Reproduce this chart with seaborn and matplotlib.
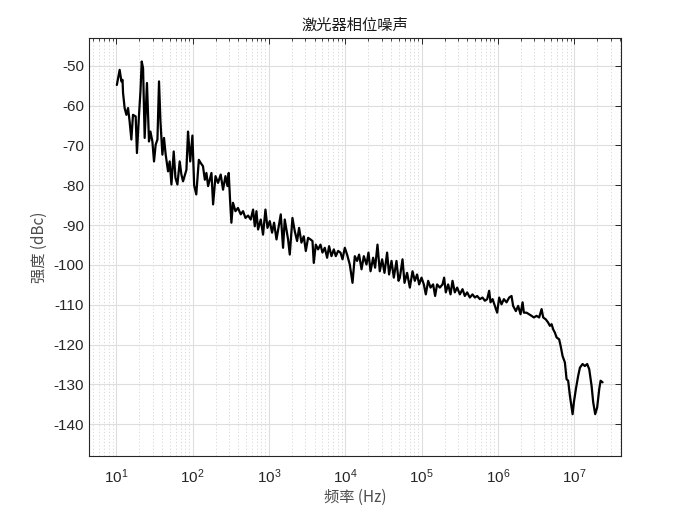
import matplotlib

matplotlib.use("Agg")
import matplotlib.pyplot as plt
import matplotlib.ticker as mticker
import numpy as np
import pandas as pd
import seaborn as sns

# frequency (Hz) and phase noise (dBc)
freq_hz = [
    10.2, 11.1, 11.7, 12.1, 12.3, 12.9, 13.6, 14.3, 15.0, 15.8,
    16.6, 18.0, 18.7, 19.9, 20.8, 21.6, 22.5, 23.6, 25.3, 26.9,
    28.1, 29.8, 31.3, 32.9, 34.7, 36.4, 38.0, 40.3, 42.3, 44.5,
    47.8, 50.2, 52.9, 56.7, 59.7, 63.4, 67.9, 71.5, 75.1, 83.2,
    87.3, 93.3, 99.7, 105, 112, 121, 128, 137, 145, 152,
    160, 177, 186, 200, 216, 234, 251, 270, 287, 298,
    310, 323, 339, 365, 394, 428, 459, 494, 534, 579,
    621, 654, 688, 722, 783, 839, 902, 959, 1028, 1102,
    1170, 1259, 1349, 1432, 1535, 1615, 1786, 1879, 2037, 2183,
    2344, 2489, 2674, 2866, 3048, 3266, 3509, 3727, 3876, 4118,
    4413, 4746, 5038, 5405, 5794, 6152, 6607, 7096, 7534, 8072,
    8670, 9225, 9886, 10590, 11480, 12470, 13370, 14320, 15210, 16370,
    17540, 19010, 20180, 21480, 23230, 24660, 26490, 28380, 30480, 32730,
    35400, 37580, 40460, 43350, 46990, 50000, 52000, 56360, 59840, 64710,
    70310, 76210, 81660, 87500, 93110, 1.00e5, 1.072e5, 1.138e5, 1.222e5, 1.313e5,
    1.419e5, 1.507e5, 1.600e5, 1.738e5, 1.884e5, 1.977e5, 2.080e5, 2.233e5, 2.399e5, 2.547e5,
    2.729e5, 2.931e5, 3.177e5, 3.444e5, 3.690e5, 3.963e5, 4.295e5, 4.656e5, 5.000e5, 5.358e5,
    5.808e5, 6.295e5, 6.761e5, 7.244e5, 7.691e5, 8.017e5, 8.531e5, 9.141e5, 9.795e5, 1.040e6,
    1.117e6, 1.199e6, 1.300e6, 1.406e6, 1.510e6, 1.585e6, 1.722e6, 1.845e6, 1.982e6, 2.108e6,
    2.193e6, 2.377e6, 2.570e6, 2.767e6, 2.965e6, 3.214e6, 3.475e6, 3.741e6, 3.926e6, 4.256e6,
    4.560e6, 4.808e6, 5.058e6, 5.309e6, 5.585e6, 5.875e6, 6.353e6, 6.637e6, 7.047e6, 7.551e6,
    7.943e6, 8.337e6, 8.790e6, 9.247e6, 9.528e6, 9.908e6, 1.052e7, 1.127e7, 1.189e7, 1.288e7,
    1.380e7, 1.479e7, 1.574e7, 1.690e7, 1.774e7, 1.884e7, 2.000e7, 2.128e7, 2.218e7, 2.355e7,
]
noise_dbc = [
    -54.8, -51.0, -53.9, -53.5, -56.8, -60.6, -62.3, -60.6, -64.0, -68.5,
    -62.3, -62.7, -71.9, -62.3, -56.4, -48.9, -50.6, -68.1, -54.3, -69.0,
    -66.5, -69.0, -74.0, -69.8, -68.5, -53.9, -64.0, -72.3, -68.1, -72.3,
    -76.5, -74.0, -79.8, -71.5, -78.1, -79.8, -74.0, -77.3, -79.0, -76.1,
    -66.5, -74.0, -67.5, -80.0, -82.3, -73.6, -74.4, -75.2, -78.6, -76.9,
    -80.2, -76.9, -84.8, -77.7, -79.4, -77.3, -81.1, -77.7, -80.2, -76.9,
    -83.6, -89.4, -84.4, -86.5, -85.7, -87.3, -86.5, -88.2, -87.6, -88.6,
    -86.1, -90.3, -86.5, -91.1, -88.6, -92.4, -86.1, -90.7, -89.0, -91.9,
    -89.4, -93.6, -90.3, -87.3, -95.7, -88.6, -93.6, -97.4, -88.2, -91.5,
    -94.0, -90.7, -94.4, -92.8, -96.5, -93.2, -93.6, -94.0, -99.5, -94.9,
    -96.1, -94.9, -96.9, -95.7, -98.2, -95.3, -97.8, -96.1, -97.8, -96.5,
    -96.9, -98.6, -95.7, -97.4, -99.9, -104.5, -97.8, -99.0, -97.4, -101.1,
    -97.8, -99.9, -96.9, -101.6, -98.2, -100.7, -94.9, -101.6, -98.6, -102.0,
    -96.9, -102.4, -99.0, -103.2, -99.0, -104.0, -103.2, -98.6, -104.5, -102.0,
    -105.7, -101.6, -104.0, -102.4, -104.9, -103.2, -104.9, -107.4, -104.0, -105.7,
    -104.9, -107.8, -104.9, -105.7, -104.9, -103.2, -106.9, -104.9, -107.4, -104.0,
    -106.9, -105.7, -107.4, -106.1, -107.8, -106.9, -108.2, -107.4, -108.2, -107.8,
    -108.6, -108.2, -109.0, -108.6, -106.5, -109.4, -108.6, -110.3, -112.0, -108.2,
    -109.9, -108.6, -109.4, -108.2, -107.8, -110.3, -111.6, -110.3, -112.4, -109.4,
    -112.0, -112.0, -112.4, -112.8, -113.2, -112.8, -113.2, -111.1, -113.2, -113.7,
    -114.5, -115.3, -114.9, -116.2, -117.0, -118.2, -118.7, -120.3, -122.9, -124.5,
    -128.7, -129.1, -132.9, -135.8, -137.5, -134.5, -131.2, -127.9, -125.8, -124.9,
    -125.4, -124.9, -126.2, -130.4, -134.5, -137.5, -135.8, -131.2, -129.1, -129.5,
]

x_ticks = [1e1, 1e2, 1e3, 1e4, 1e5, 1e6, 1e7]
y_ticks = list(range(-140, -40, 10))

df = pd.DataFrame({"freq": freq_hz, "noise": noise_dbc})

sns.set_style("white")
plt.rcParams["font.family"] = ["Liberation Sans", "Noto Sans CJK SC", "DejaVu Sans"]
plt.rcParams["mathtext.default"] = "regular"
plt.rcParams["axes.unicode_minus"] = False

fig = plt.figure(figsize=(6.86, 5.15), dpi=100)
ax = fig.add_axes([0.1297, 0.1146, 0.7755, 0.8116])

sns.lineplot(data=df, x="freq", y="noise", estimator=None, sort=False,
             color="black", lw=1.6, ax=ax)

ax.set_xscale("log")
ax.set_xlim(4.4, 4.1e7)
ax.set_ylim(-148, -43)
ax.set_xticks(x_ticks)
ax.xaxis.set_major_formatter(
    mticker.FuncFormatter(lambda v, _: r"$10^{%d}$" % round(np.log10(v))))
ax.xaxis.set_minor_locator(mticker.LogLocator(base=10, subs=np.arange(2, 10)))
ax.xaxis.set_minor_formatter(mticker.NullFormatter())
ax.set_yticks(y_ticks)

ax.grid(which="major", color="#dedede", lw=0.8, ls="-")
ax.grid(which="minor", axis="x", color="#d4d4d4", lw=0.6, ls=(0, (1.5, 2.5)))
ax.set_axisbelow(True)

for s in ax.spines.values():
    s.set_color("#262626")
    s.set_linewidth(0.8)
ax.tick_params(which="both", direction="in", top=True, right=True,
               colors="#262626", labelsize=11)
ax.tick_params(which="major", length=4, width=0.7)
ax.tick_params(which="minor", length=2, width=0.6)
ax.tick_params(axis="x", pad=8)

ax.set_title("激光器相位噪声", fontsize=11, color="#1a1a1a", pad=6,
             family=["Noto Sans CJK SC", "DejaVu Sans"])
ax.set_xlabel("频率 (Hz)", fontsize=11, color="#4d4d4d", labelpad=2,
              family=["Noto Sans CJK SC", "DejaVu Sans"])
ax.set_ylabel("强度 (dBc)", fontsize=11, color="#4d4d4d", labelpad=4,
              family=["Noto Sans CJK SC", "DejaVu Sans"])

fig.savefig("out.png", dpi=100)
